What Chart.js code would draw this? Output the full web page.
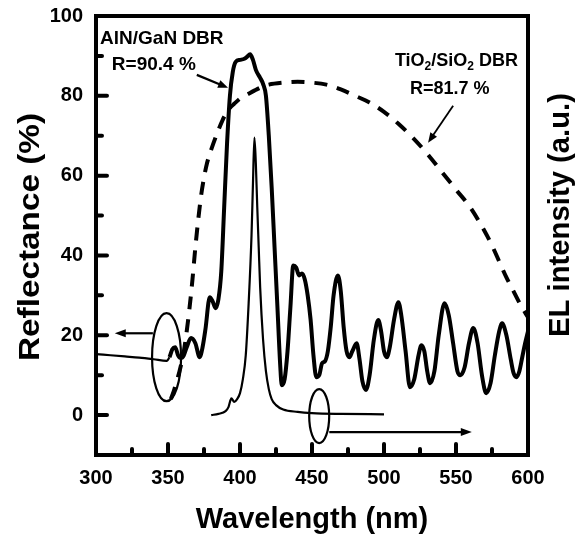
<!DOCTYPE html>
<html>
<head>
<meta charset="utf-8">
<script src="https://cdn.jsdelivr.net/npm/chart.js@4.4.1/dist/chart.umd.min.js"></script>
<style>
  html, body { margin: 0; background: #fff; }
  canvas { display: block; }
</style>
</head>
<body>
<canvas id="c" width="586" height="538"></canvas>
<script>
const FONT = '"Liberation Sans", Arial, Helvetica, sans-serif';

// AlN/GaN DBR reflectance (thick solid line), % vs nm
const reflWl = [300, 310, 320, 330, 340, 349, 351, 353, 355, 357, 359, 361, 363, 366, 369, 372, 374, 376, 379, 381, 383, 385,
  387, 389, 391, 393, 395, 397, 400, 403, 405, 407, 409, 411, 414, 416, 418, 420, 422, 424, 426, 428, 429, 431, 433, 435,
  437, 439, 441, 443, 445, 447, 449, 451, 453, 455, 457, 459, 461, 463, 465, 468, 470, 472, 474, 476, 478, 481, 483, 485,
  487.5, 490, 493, 496, 498, 500, 502, 504, 507, 510, 512, 515, 518, 521, 524, 526, 528, 530, 532, 535, 538, 542, 545, 548,
  551, 553, 556, 559, 562, 565, 568, 571, 574, 577, 580, 582, 585, 588, 590, 592, 594, 596, 598, 600];
const reflPct = [15.3, 15.0, 14.7, 14.4, 14.0, 13.6, 14.5, 16.5, 17.0, 15.0, 14.3, 15.0, 17.0, 19.3, 18.0, 14.5, 17.0, 21.5, 29.5, 28.5, 26.8, 29.0,
  36, 52, 68, 80, 86, 88.5, 89.0, 89.3, 89.8, 90.4, 89.0, 86.5, 84.5, 83.0, 80.0, 70, 57, 42, 27, 12, 7.5, 9, 16, 27,
  37.5, 37, 35, 35.5, 34, 30, 24, 15, 9.5, 10, 13, 13.5, 16, 22, 30, 35, 31, 22, 16, 14.5, 16, 18, 14, 8.5,
  6.3, 10, 19, 23.8, 21, 16, 14.5, 17, 24, 28.3, 25, 16, 7, 9, 15, 17.5, 16, 11, 8, 11, 20, 28, 25, 18,
  11, 10, 12, 18, 21.8, 18, 10, 5.5, 8, 15, 21, 23, 20, 14, 10.5, 9.5, 11, 14.5, 18, 21];

// TiO2/SiO2 DBR reflectance (dashed line)
const tioWl = [352, 354, 356, 358, 361, 363, 365, 367, 369, 371, 373, 375, 377, 380, 384, 388, 392, 396, 400, 405, 410, 415,
  420, 430, 440, 450, 460, 470, 480, 490, 500, 510, 520, 530, 540, 550, 560, 570, 575, 580, 585, 590, 595, 600];
const tioPct = [4, 6, 8.5, 11, 16, 21, 27, 34, 42, 49, 55, 59.5, 63, 66.5, 70.5, 74, 76.5, 78, 79.3, 80.3, 81.3, 82.2,
  82.8, 83.3, 83.5, 83.3, 82.8, 81.6, 80, 78.3, 76, 73, 69.5, 65.5, 61, 56.5, 52, 46, 42.5, 38.5, 34.5, 31, 27.5, 24.5];

// EL spectrum (thin line), drawn on the same vertical scale
const elWl = [380, 385, 390, 392, 394, 396, 398, 400, 402, 404, 406, 408, 409, 410, 411, 412, 413, 414, 416, 418, 420,
  422, 425, 430, 440, 450, 470, 500];
const elVal = [0, 0.3, 1, 2, 4.2, 3.3, 4, 5.5, 9, 15, 28, 45, 58, 69.5, 63, 52, 42, 32, 19, 11, 6.5,
  4, 2.5, 1.4, 0.8, 0.5, 0.3, 0.2];

const xTicks = [300, 350, 400, 450, 500, 550, 600];
const xMinor = [325, 375, 425, 475, 525, 575];
const yTicks = [0, 20, 40, 60, 80, 100];
const yMinor = [10, 30, 50, 70, 90];

const pts = (xs, ys) => xs.map((v, i) => ({ x: v, y: ys[i] }));

// overlay: inward ticks, heavy frame, vertical titles and the hand-drawn annotations
const decor = {
  id: 'decor',
  afterDatasetsDraw(chart) {
    const { ctx, chartArea: a, scales: { x, y } } = chart;
    const X = (v) => x.getPixelForValue(v);
    const Y = (v) => y.getPixelForValue(v);
    ctx.save();
    ctx.strokeStyle = '#000';
    ctx.fillStyle = '#000';

    const line = (x1, y1, x2, y2) => { ctx.beginPath(); ctx.moveTo(x1, y1); ctx.lineTo(x2, y2); ctx.stroke(); };
    ctx.lineWidth = 4;
    ctx.lineCap = 'round';
    xTicks.forEach((v) => { const p = X(v); if (p > a.left + 3 && p < a.right - 3) line(p, a.bottom, p, a.bottom - 11); });
    xMinor.forEach((v) => line(X(v), a.bottom, X(v), a.bottom - 6));
    yTicks.forEach((v) => { const p = Y(v); if (p > a.top + 3 && p < a.bottom - 3) line(a.left, p, a.left + 11, p); });
    yMinor.forEach((v) => line(a.left, Y(v), a.left + 6, Y(v)));

    ctx.lineCap = 'butt';
    ctx.lineJoin = 'miter';
    ctx.strokeRect(a.left, a.top, a.right - a.left, a.bottom - a.top);

    // both vertical titles read bottom to top
    const vTitle = (text, cx, cy, size, len) => {
      ctx.save();
      ctx.font = 'bold ' + size + 'px ' + FONT;
      ctx.translate(cx, cy);
      ctx.rotate(-Math.PI / 2);
      ctx.scale(len / ctx.measureText(text).width, 1);
      ctx.textAlign = 'center';
      ctx.textBaseline = 'middle';
      ctx.fillText(text, 0, 0);
      ctx.restore();
    };
    vTitle('Reflectance (%)', 31, 237, 30, 248);
    vTitle('EL intensity (a.u.)', 561, 215, 29, 244);

    const arrow = (x1, y1, x2, y2, w, hl, hw) => {
      const ang = Math.atan2(y2 - y1, x2 - x1);
      ctx.lineWidth = w;
      line(x1, y1, x2 - Math.cos(ang) * hl * 0.8, y2 - Math.sin(ang) * hl * 0.8);
      ctx.beginPath();
      ctx.moveTo(x2, y2);
      ctx.lineTo(x2 - Math.cos(ang) * hl + Math.sin(ang) * hw, y2 - Math.sin(ang) * hl - Math.cos(ang) * hw);
      ctx.lineTo(x2 - Math.cos(ang) * hl - Math.sin(ang) * hw, y2 - Math.sin(ang) * hl + Math.cos(ang) * hw);
      ctx.closePath();
      ctx.fill();
    };

    // ellipses marking which axis each curve belongs to
    ctx.lineWidth = 2.2;
    ctx.beginPath();
    ctx.ellipse(X(349), Y(14.5), 14.5, 44, 0, 0, Math.PI * 2);
    ctx.stroke();
    arrow(X(339.5), Y(20.5), X(313), Y(20.5), 2.2, 11, 4);
    ctx.beginPath();
    ctx.ellipse(X(455), Y(-0.25), 10, 27, 0, 0, Math.PI * 2);
    ctx.stroke();
    arrow(X(462), Y(-4.25), X(561), Y(-4.25), 2.2, 11, 4);

    // labels
    ctx.textBaseline = 'middle';
    ctx.textAlign = 'left';
    ctx.font = 'bold 19px ' + FONT;
    ctx.fillText('AlN/GaN DBR', X(302.8), Y(94.25));
    ctx.fillText('R=90.4 %', X(311), Y(87.75));
    arrow(X(370), Y(85.25), X(391.7), Y(82), 2.2, 10, 4);

    let tx = X(507.6);
    const ty = Y(88.75);
    const big = 'bold 18px ' + FONT;
    const sub = 'bold 12px ' + FONT;
    [['TiO', big, 0], ['2', sub, 6], ['/SiO', big, 0], ['2', sub, 6], [' DBR', big, 0]].forEach(([s, f, dy]) => {
      ctx.font = f;
      ctx.fillText(s, tx, ty + dy);
      tx += ctx.measureText(s).width;
    });
    ctx.font = big;
    ctx.fillText('R=81.7 %', X(518), Y(81.75));
    arrow(X(548), Y(77.5), X(530.6), Y(68.25), 1.8, 10, 4);

    ctx.restore();
  }
};

const tickFont = { family: FONT, size: 20, weight: 'bold' };

new Chart(document.getElementById('c'), {
  type: 'line',
  data: {
    datasets: [
      {
        data: pts(reflWl, reflPct),
        borderColor: '#000', borderWidth: 4, pointRadius: 0, fill: false,
        cubicInterpolationMode: 'monotone',
        segment: { borderWidth: (c) => (c.p1.parsed.x <= 351 ? 2.2 : 4) },
      },
      {
        data: pts(tioWl, tioPct),
        borderColor: '#000', borderWidth: 4, borderDash: [13, 10], pointRadius: 0, fill: false,
        cubicInterpolationMode: 'monotone',
      },
      {
        data: pts(elWl, elVal),
        borderColor: '#000', borderWidth: 2.2, pointRadius: 0, fill: false,
        cubicInterpolationMode: 'monotone',
      },
    ],
  },
  options: {
    responsive: false,
    animation: false,
    devicePixelRatio: 1,
    layout: { padding: { top: 16, right: 58, left: 0, bottom: 0 } },
    plugins: { legend: { display: false }, tooltip: { enabled: false } },
    scales: {
      x: {
        type: 'linear', min: 300, max: 600,
        afterBuildTicks: (s) => { s.ticks = xTicks.map((v) => ({ value: v })); },
        afterFit: (s) => { s.height = 83; s.paddingLeft = 0; s.paddingRight = 0; },
        grid: { display: false, drawTicks: false },
        border: { display: false },
        ticks: { autoSkip: false, maxRotation: 0, padding: 11, color: '#000', font: tickFont },
        title: { display: true, text: 'Wavelength (nm)', color: '#000', font: { family: FONT, size: 29, weight: 'bold' }, padding: { top: 0, bottom: 1 } },
      },
      y: {
        type: 'linear', min: -10, max: 100,
        afterBuildTicks: (s) => { s.ticks = yTicks.map((v) => ({ value: v })); },
        afterFit: (s) => { s.width = 96; s.paddingTop = 0; s.paddingBottom = 0; },
        grid: { display: false, drawTicks: false },
        border: { display: false },
        ticks: { autoSkip: false, padding: 13, color: '#000', font: tickFont },
      },
    },
  },
  plugins: [decor],
});
</script>
</body>
</html>
